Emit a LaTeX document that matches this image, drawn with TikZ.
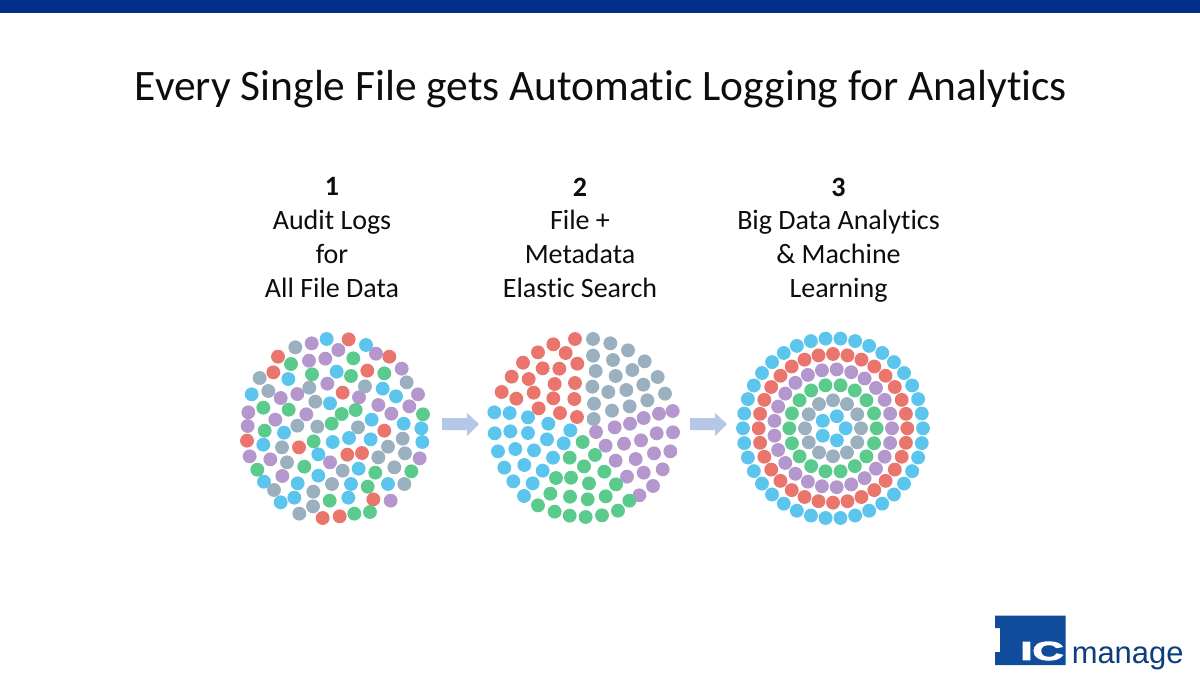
\documentclass[tikz,border=0pt]{standalone}
\usepackage{fontspec}
\setmainfont[Ligatures=CommonOff]{Carlito}
\newfontfamily\logofont{Liberation Sans}
\newfontfamily\logobold[FakeBold=3.5]{Liberation Sans Bold}
\definecolor{cblue}{HTML}{5BC5EE}
\definecolor{cred}{HTML}{E9756C}
\definecolor{cgreen}{HTML}{5BCB8D}
\definecolor{cpurple}{HTML}{B497CC}
\definecolor{cgray}{HTML}{9BB0BF}
\definecolor{barblue}{HTML}{003087}
\definecolor{logoblue}{HTML}{0F4C9C}
\definecolor{arrowblue}{HTML}{B4C7E7}
\newcommand{\dotsof}[2]{\foreach \px/\py in {#2} \fill[#1] (\px,\py) circle[radius=5.2pt];}
\newcommand{\ringof}[3]{\foreach \k in {1,...,#3} \fill[#1] ({360/#3*\k}:#2) circle[radius=5.2pt];}
\tikzset{
  title text/.style={font=\fontsize{32.6pt}{38pt}\selectfont,text=black!95,inner sep=0pt,anchor=center},
  label text/.style={font=\fontsize{21pt}{25.3pt}\selectfont,text=black!95,align=center,inner sep=0pt,anchor=north},
  flow arrow/.style={fill=arrowblue},
  zoomed/.style={x=0.25pt,y=-0.25pt}
}
\begin{document}
\begin{tikzpicture}[x=0.75pt,y=-0.75pt]
\useasboundingbox (0,0) rectangle (1200,675);
\fill[white] (0,0) rectangle (1200,675);
\fill[barblue] (0,0) rectangle (1200,12.5);
\node[title text] (title) at (601,89) {Every Single File gets Automatic Logging for Analytics};
\node[label text] (col1) at (332,177.5) {\textbf{1}\\Audit Logs\\for\\All File Data};
\node[label text] (col2) at (580,177.5) {\textbf{2}\\File +\\Metadata\\Elastic Search};
\node[label text] (col3) at (838.5,177.5) {\textbf{3}\\Big Data Analytics\\\& Machine\\Learning};
% first cloud
\begin{scope}[shift={(235,325)},zoomed]
\dotsof{cblue}{275/42,393/60,305/140,160/162,443/191,50/208,483/214,285/235,410/284,506/296,559/310,147/323,342/339,85/359,293/351,407/343,562/351,250/388,371/431,250/452,87/470,188/475,348/477,459/477,178/518,340/518,137/532}
\dotsof{cred}{341/43,129/95,463/95,115/142,397/137,323/203,448/317,36/347,192/367,337/389,381/384,415/523,263/579,314/574}
\dotsof{cgreen}{168/117,355/100,231/148,348/153,448/145,85/248,161/254,320/267,362/255,564/268,290/296,89/317,236/349,67/434,208/425,421/443,529/439,398/485,284/527,358/566,405/561}
\dotsof{cpurple}{230/55,310/75,423/86,222/107,271/101,500/131,277/176,137/219,187/207,372/217,549/208,430/240,523/244,40/262,214/268,469/266,121/284,38/303,44/394,106/403,285/412,554/400,142/453,467/527}
\dotsof{cgray}{181/67,74/159,515/172,223/188,390/184,100/198,241/230,187/302,247/305,369/307,503/341,141/367,459/365,510/385,430/397,156/412,323/437,478/427,291/477,508/477,117/495,235/500,234/544,193/566}
\end{scope}
% second cloud
\begin{scope}[shift={(480,325)},zoomed]
\dotsof{cred}{285/42,220/58,257/84,174/82,129/113,188/130,238/131,292/116,95/155,146/162,224/177,285/174,65/201,161/203,109/221,220/220,283/222,176/250,240/264,291/276}
\dotsof{cgray}{339/42,391/55,444/76,339/92,399/105,494/109,347/138,457/135,407/153,533/156,490/179,337/185,385/201,439/195,555/206,502/226,342/236,449/244,396/257,341/282}
\dotsof{cpurple}{578/258,537/266,491/279,450/296,404/307,348/321,530/325,579/322,483/346,432/356,377/362,571/379,522/385,467/402,407/407,548/433,491/443,441/455,519/483,478/511}
\dotsof{cblue}{43/262,89/264,144/277,205/296,271/316,44/325,91/319,144/324,201/343,251/355,54/379,106/372,162/376,219/398,73/428,133/420,188/437,100/469,158/475,132/513}
\dotsof{cgreen}{308/351,345/390,269/398,312/424,373/440,228/459,273/458,327/475,408/478,211/506,270/515,323/523,377/514,448/527,174/541,224/560,269/572,317/576,366/571,414/557}
\end{scope}
% third cloud: concentric rings
\begin{scope}[shift={(833,428.3)},zoomed]
\ringof{cblue}{270}{38}
\ringof{cred}{223}{32}
\ringof{cpurple}{177}{25}
\ringof{cgreen}{131}{18}
\ringof{cgray}{84}{12}
\ringof{cblue}{38}{5}
\end{scope}
% arrows
\fill[flow arrow] (442,418) -- (467,418) -- (467,413) -- (479,424) -- (467,436) -- (467,430) -- (442,430) -- cycle;
\fill[flow arrow] (690,418) -- (715,418) -- (715,413) -- (727,424) -- (715,436) -- (715,430) -- (690,430) -- cycle;
% logo
\fill[logoblue] (995,615.5) -- (1065.5,615.5) -- (1065.5,665) -- (995,665) -- (995,652) -- (1000,652) -- (1000,628) -- (995,628) -- cycle;
\node[inner sep=0pt,anchor=center,text=white,xscale=1.66] (logoic) at (1042,651) {\logobold\fontsize{19.5pt}{19.5pt}\selectfont IC};
\node[inner sep=0pt,anchor=base west,text=logoblue!80!black] (logotext) at (1071.5,663.5) {\logofont\fontsize{23.2pt}{24pt}\selectfont manage};
\end{tikzpicture}
\end{document}
